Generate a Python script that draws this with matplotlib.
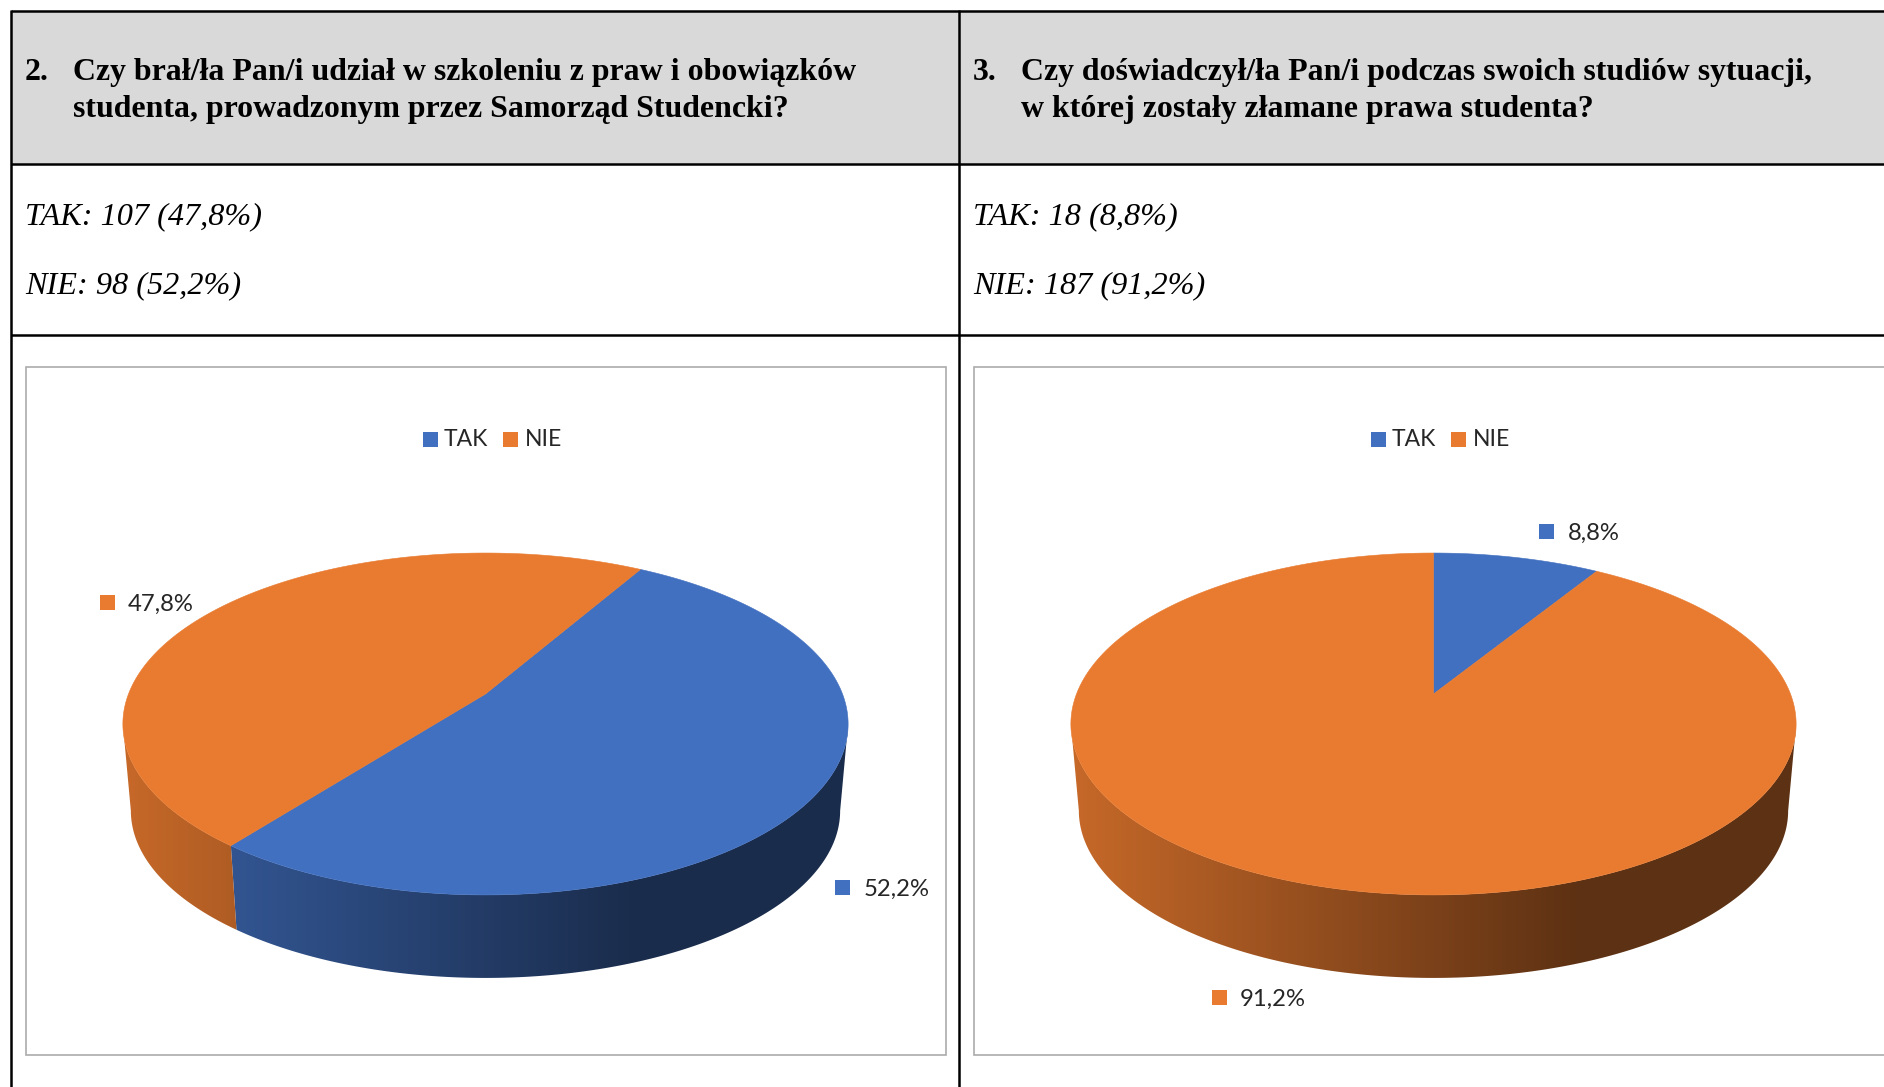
import numpy as np
import matplotlib
matplotlib.use('Agg')
import matplotlib.pyplot as plt
from matplotlib.colors import to_rgb
from matplotlib.patches import Polygon, Rectangle

# Chart values
categories = ['TAK', 'NIE']
left_shares = [52.2, 47.8]
right_shares = [8.8, 91.2]
left_labels = ['52,2%', '47,8%']
right_labels = ['8,8%', '91,2%']
left_answers = ['TAK: 107 (47,8%)', 'NIE: 98 (52,2%)']
right_answers = ['TAK: 18 (8,8%)', 'NIE: 187 (91,2%)']
left_question = ['Czy brał/ła Pan/i udział w szkoleniu z praw i obowiązków',
                 'studenta, prowadzonym przez Samorząd Studencki?']
right_question = ['Czy doświadczył/ła Pan/i podczas swoich studiów sytuacji,',
                  'w której zostały złamane prawa studenta?']

BLUE = '#4270C0'
ORANGE = '#E97B30'
colors = [BLUE, ORANGE]
SERIF = 'Liberation Serif'
SANS = 'Lato'
TILT = 0.1754


def project(theta, cx, scale=1.0, dy=0.0):
    # Angles run clockwise from the top of the pie, tilted with some perspective
    x = np.sin(theta)
    y = np.cos(theta)
    w = 1 + TILT * y
    return cx + 357 * scale * x / w, 694 + dy - 165.7 * scale * y / w


def draw_pie(ax, shares, cx, start):
    edges = np.radians(start + np.concatenate([[0], np.cumsum(shares)]) * 3.6)
    x_left = cx - 362
    width = 724

    # Only the front of the side wall is visible, between the two widest points
    front_a = np.arccos(-TILT)
    front_b = 2 * np.pi - front_a
    for i, color in enumerate(colors):
        a = max(edges[i], front_a)
        b = min(edges[i + 1], front_b)
        if a >= b:
            continue
        theta = np.linspace(a, b, 300)
        top = np.column_stack(project(theta, cx))
        bottom = np.column_stack(project(theta, cx, 0.978, 87.4))
        wall = Polygon(np.vstack([top, bottom[::-1]]), closed=True,
                       transform=ax.transData, facecolor='none', edgecolor='none')
        ax.add_patch(wall)
        t = np.clip(np.linspace(0, 1, 512) / 0.7, 0, 1)
        shade = 0.85 - 0.45 * t
        grad = shade[None, :, None] * np.array(to_rgb(color))[None, None, :]
        img = ax.imshow(grad, extent=[x_left, x_left + width, 1000, 500],
                        aspect='auto', interpolation='bilinear', zorder=2)
        img.set_clip_path(wall)

    for i, color in enumerate(colors):
        theta = np.linspace(edges[i], edges[i + 1], 300)
        arc = np.column_stack(project(theta, cx))
        apex = np.column_stack(project(np.array([0.0]), cx, 0.0))
        ax.add_patch(Polygon(np.vstack([apex, arc]), closed=True, facecolor=color,
                             edgecolor=color, linewidth=0.4, zorder=3))


def draw_square(ax, x, y, color, size=15):
    ax.add_patch(Rectangle((x - size / 2, y - size / 2), size, size, facecolor=color,
                           edgecolor='none', zorder=4))


def draw_column(ax, x0, number, question, answers):
    ax.text(x0, 72.5, number, family=SERIF, fontweight='bold', fontsize=TITLE_SIZE,
            va='center', ha='left', color='black')
    for line, y in zip(question, [72.5, 110]):
        ax.text(x0 + 48, y, line, family=SERIF, fontweight='bold', fontsize=TITLE_SIZE,
                va='center', ha='left', color='black')
    for line, y in zip(answers, [217, 286]):
        ax.text(x0, y, line, family=SERIF, style='italic', fontsize=ANSWER_SIZE,
                va='center', ha='left', color='black')


def draw_legend(ax, offset):
    for name, color, sq_x, txt_x in zip(categories, colors, [430.5, 510.5], [444, 525]):
        draw_square(ax, sq_x + offset, 439.5, color, 15)
        ax.text(txt_x + offset, 440, name, family=SANS, fontsize=16.5,
                va='center', ha='left', color='#262626', zorder=4)


TITLE_SIZE = 22.95
ANSWER_SIZE = 23.2
LABEL_SIZE = 17.2

fig = plt.figure(figsize=(18.84, 10.87), dpi=100)
ax = fig.add_axes([0, 0, 1, 1])
ax.set_axis_off()

# Table background and rules
ax.add_patch(Rectangle((11, 11), 1873, 153, facecolor='#D9D9D9', edgecolor='none', zorder=0))
for y in [11, 164, 335]:
    ax.plot([11, 1884], [y, y], color='black', lw=1.8, zorder=1, solid_capstyle='butt')
for x in [11, 959]:
    ax.plot([x, x], [10, 1087], color='black', lw=1.8, zorder=1, solid_capstyle='butt')

# Chart frames
ax.add_patch(Rectangle((25.5, 367), 920.5, 688, facecolor='white', edgecolor='#ABABAB', lw=1.2, zorder=1))
ax.add_patch(Rectangle((974, 367), 950, 688, facecolor='white', edgecolor='#ABABAB', lw=1.2, zorder=1))

draw_column(ax, 25, '2.', left_question, left_answers)
draw_column(ax, 973, '3.', right_question, right_answers)

draw_legend(ax, 0)
draw_legend(ax, 948)

draw_pie(ax, np.array(left_shares), 485.5, 30)
draw_pie(ax, np.array(right_shares), 1433.5, 0)

# Data labels with their colour keys
for text, color, sq, tx, ty in zip(left_labels + right_labels, colors + colors,
                                   [842, 107, 1546, 1219], [864, 128, 1568, 1240],
                                   [887, 602, 531, 997]):
    draw_square(ax, sq, ty, color)
    ax.text(tx, ty + 2.5, text, family=SANS, fontsize=LABEL_SIZE, va='center', ha='left',
            color='#262626', zorder=4)

ax.set_xlim(0, 1884)
ax.set_ylim(1087, 0)

fig.savefig('out.png', dpi=100)
